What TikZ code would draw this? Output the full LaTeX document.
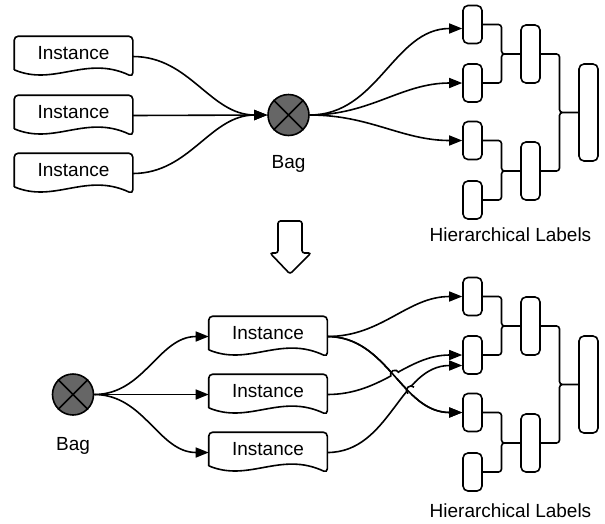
\documentclass[tikz,border=0pt]{standalone}
\usepackage{fontspec}
\setmainfont{Liberation Sans}
\usetikzlibrary{calc,arrows.meta,intersections}

\definecolor{bagfill}{HTML}{666666}

\tikzset{
  doc/.style={minimum width=117pt, minimum height=39pt, inner sep=0pt, text depth=7pt},
  leaf/.style={draw, rounded corners=5pt, minimum width=19pt, minimum height=38pt, inner sep=0pt},
  mid/.style={leaf, minimum height=58pt},
  root/.style={leaf, minimum height=97pt},
  bag/.style={circle, draw, fill=bagfill, minimum size=41pt, inner sep=0pt},
  flow/.style={-{Triangle[length=13pt,width=10pt]}},
  tree/.style={rounded corners=3pt},
  elbow/.style={to path={-| ($(\tikztostart)!.5!(\tikztotarget)$) |- (\tikztotarget)}},
}

\begin{document}
\begin{tikzpicture}[x=1pt, y=1pt, line width=1.6pt, font=\fontsize{19}{23}\selectfont]
    \useasboundingbox (0,0) rectangle (605,-523);

    % top: instances into one bag
    \node[doc] (i1) at (73.5,-56.5) {Instance};
    \node[doc] (i2) at (73.5,-115.5) {Instance};
    \node[doc] (i3) at (73.5,-173.5) {Instance};
    \node[bag] (bag) at (288.5,-115) {};
    \draw (bag.north west) -- (bag.south east) (bag.north east) -- (bag.south west);
    \node[anchor=base] (baglbl) at (288.5,-168) {Bag};

    \node[leaf] (l1) at (472.5,-24.5) {};
    \node[leaf] (l2) at (472.5,-83) {};
    \node[leaf] (l3) at (472.5,-140.5) {};
    \node[leaf] (l4) at (472.5,-200) {};
    \node[mid] (m1) at (530.5,-54) {};
    \node[mid] (m2) at (530.5,-171) {};
    \node[root] (r1) at (588.5,-112.5) {};
    \node[anchor=base] (hl1) at (510.5,-241) {Hierarchical Labels};

    \draw[flow] (i1.east) to[out=0,in=180] (bag.west);
    \draw[flow] (i2.east) -- (bag.west);
    \draw[flow] (i3.east) to[out=0,in=180] (bag.west);
    \draw[flow] (bag.east) to[out=0,in=180] ([yshift=-4pt]l1.west);
    \draw[flow] (bag.east) to[out=0,in=180] (l2.west);
    \draw[flow] (bag.east) to[out=0,in=180] (l3.west);

    \draw[tree] (l1.east) to[elbow] (m1.west) (l2.east) to[elbow] (m1.west);
    \draw[tree] (l3.east) to[elbow] (m2.west) (l4.east) to[elbow] (m2.west);
    \draw[tree] (m1.east) to[elbow] (r1.west) (m2.east) to[elbow] (r1.west);

    % down arrow
    \draw[rounded corners=2.5pt] (278,-221) -- (278,-253) -- (270,-253) -- (290,-274)
      -- (311,-253) -- (302,-253) -- (302,-221) -- cycle;

    % bottom: one bag into instances
    \node[bag] (bag2) at (73,-394.5) {};
    \draw (bag2.north west) -- (bag2.south east) (bag2.north east) -- (bag2.south west);
    \node[anchor=base] (baglbl2) at (73,-450) {Bag};
    \node[doc] (j1) at (268,-336.5) {Instance};
    \node[doc] (j2) at (268,-394.5) {Instance};
    \node[doc] (j3) at (268,-452.5) {Instance};

    \node[leaf] (k1) at (472.5,-296.5) {};
    \node[leaf] (k2) at (472.5,-355) {};
    \node[leaf] (k3) at (472.5,-412.5) {};
    \node[leaf] (k4) at (472.5,-472) {};
    \node[mid] (n1) at (530.5,-326) {};
    \node[mid] (n2) at (530.5,-443) {};
    \node[root] (r2) at (588.5,-384.5) {};
    \node[anchor=base] (hl2) at (510.5,-517) {Hierarchical Labels};

    \draw[flow] (bag2.east) to[out=0,in=180] (j1.west);
    \draw[flow] (bag2.east) -- (j2.west);
    \draw[flow] (bag2.east) to[out=0,in=180] (j3.west);
    \draw[flow] (j1.east) to[out=0,in=180] (k1.west);
    \draw[flow, name path=cross] (j1.east) to[out=0,in=180] (k3.west);
    \draw[flow, name path=up2] (j2.east) to[out=0,in=180] (k2.west);
    \draw[flow, name path=up3] (j3.east) to[out=0,in=180] ([yshift=-10.5pt]k2.west);

    % line hops
    \path[name intersections={of=cross and up2, by=h1}];
    \path[name intersections={of=cross and up3, by=h2}];
    \fill[white] (h1) circle (4.5pt) (h2) circle (4.5pt);
    \draw[flow] (j1.east) to[out=0,in=180] (k3.west);
    \draw (h1) ++(206:4.5pt) arc[start angle=206, end angle=26, radius=4.5pt];
    \draw (h2) ++(227:4.5pt) arc[start angle=227, end angle=47, radius=4.5pt];

    \draw[tree] (k1.east) to[elbow] (n1.west) (k2.east) to[elbow] (n1.west);
    \draw[tree] (k3.east) to[elbow] (n2.west) (k4.east) to[elbow] (n2.west);
    \draw[tree] (n1.east) to[elbow] (r2.west) (n2.east) to[elbow] (r2.west);

    % document outlines
    \foreach \n in {i1,i2,i3,j1,j2,j3}
      \draw[rounded corners=4pt] ([yshift=7pt]\n.south west) -- (\n.north west) -- (\n.north east)
        -- (\n.south east) [sharp corners] .. controls +(-47,22) and +(40,-17) .. ([yshift=7pt]\n.south west);
\end{tikzpicture}
\end{document}
